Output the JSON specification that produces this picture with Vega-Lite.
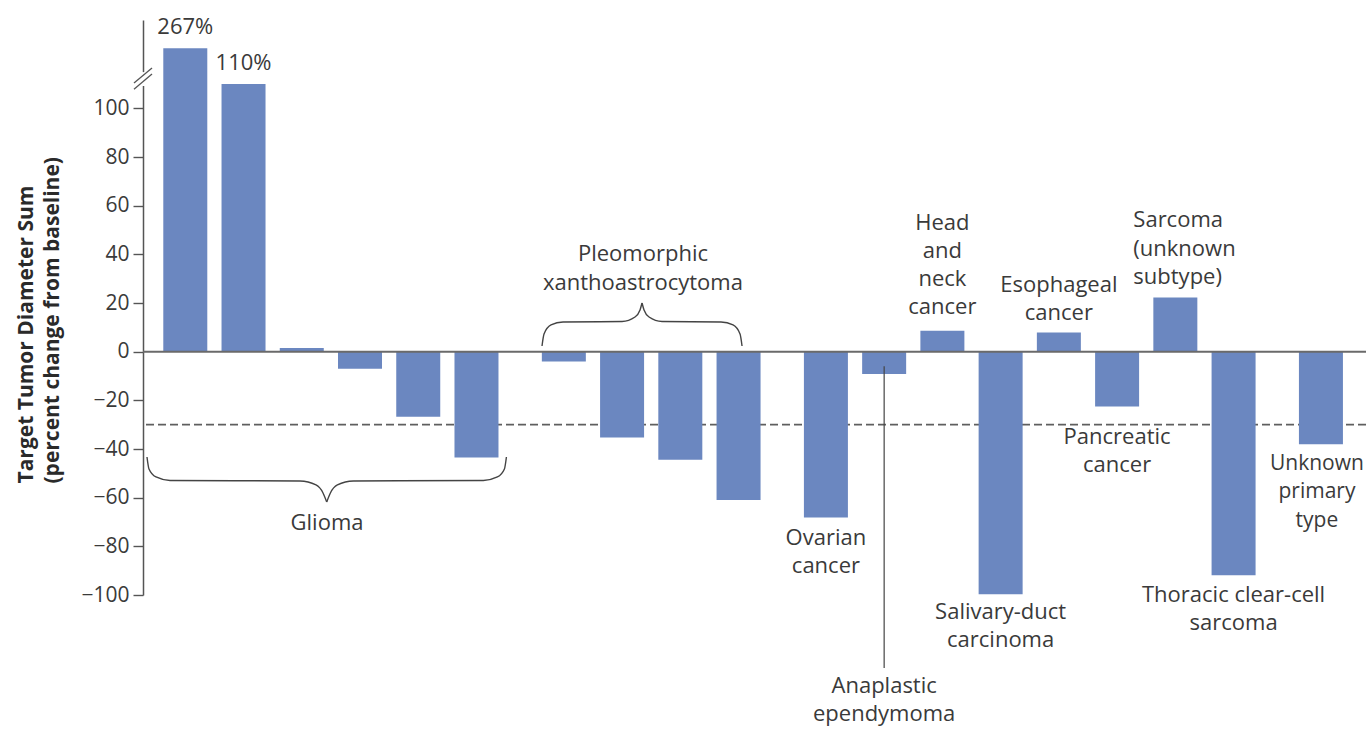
{
  "$schema": "https://vega.github.io/schema/vega-lite/v6.json",
  "width": 1223,
  "height": 575,
  "autosize": "none",
  "padding": {"left": 143, "top": 20, "right": 0, "bottom": 135},
  "background": "white",
  "config": {"view": {"stroke": null}, "font": "Open Sans"},
  "datasets": {
    "bars": [
      {"id": "1", "tumor": "Glioma", "value": 267, "label": "267%"},
      {"id": "2", "tumor": "Glioma", "value": 110, "label": "110%"},
      {"id": "3", "tumor": "Glioma", "value": 1.5, "label": ""},
      {"id": "4", "tumor": "Glioma", "value": -7, "label": ""},
      {"id": "5", "tumor": "Glioma", "value": -26.7, "label": ""},
      {"id": "6", "tumor": "Glioma", "value": -43.5, "label": ""},
      {"id": "7", "tumor": "Pleomorphic xanthoastrocytoma", "value": -4, "label": ""},
      {"id": "8", "tumor": "Pleomorphic xanthoastrocytoma", "value": -35.3, "label": ""},
      {"id": "9", "tumor": "Pleomorphic xanthoastrocytoma", "value": -44.4, "label": ""},
      {"id": "10", "tumor": "Pleomorphic xanthoastrocytoma", "value": -61, "label": ""},
      {"id": "11", "tumor": "Ovarian cancer", "value": -68.2, "label": ""},
      {"id": "12", "tumor": "Anaplastic ependymoma", "value": -9.2, "label": ""},
      {"id": "13", "tumor": "Head and neck cancer", "value": 8.6, "label": ""},
      {"id": "14", "tumor": "Salivary-duct carcinoma", "value": -99.7, "label": ""},
      {"id": "15", "tumor": "Esophageal cancer", "value": 7.9, "label": ""},
      {"id": "16", "tumor": "Pancreatic cancer", "value": -22.5, "label": ""},
      {"id": "17", "tumor": "Sarcoma (unknown subtype)", "value": 22.3, "label": ""},
      {"id": "18", "tumor": "Thoracic clear-cell sarcoma", "value": -91.9, "label": ""},
      {"id": "19", "tumor": "Unknown primary type", "value": -38, "label": ""}
    ],
    "notes": [
      {"id": "11", "v": -76.6, "text": "Ovarian\ncancer"},
      {"id": "12", "v": -137.2, "text": "Anaplastic\nependymoma"},
      {"id": "13", "v": 52.8, "text": "Head\nand\nneck\ncancer"},
      {"id": "14", "v": -107.1, "text": "Salivary-duct\ncarcinoma"},
      {"id": "15", "v": 27.4, "text": "Esophageal\ncancer"},
      {"id": "16", "v": -35.1, "text": "Pancreatic\ncancer"},
      {"id": "18", "v": -100.2, "text": "Thoracic clear-cell\nsarcoma"}
    ],
    "edgeNotes": [
      {"id": "19", "v": -46.1, "text": "Unknown\nprimary\ntype"}
    ],
    "sideNotes": [
      {"id": "17", "v": 54.1, "text": "Sarcoma\n(unknown\nsubtype)"}
    ],
    "pointers": [
      {"id": "12", "v": -6, "v2": -130}
    ],
    "braces": [
      {"seg": "gL", "k": -1.434, "v": -43.27},
      {"seg": "gL", "k": -1.365, "v": -48.2},
      {"seg": "gL", "k": -1.123, "v": -51.49},
      {"seg": "gL", "k": -0.639, "v": -52.93},
      {"seg": "gL", "k": 3.852, "v": -53.13},
      {"seg": "gL", "k": 4.405, "v": -54.78},
      {"seg": "gL", "k": 4.647, "v": -58.06},
      {"seg": "gL", "k": 4.775, "v": -61.76},
      {"seg": "gR", "k": 4.775, "v": -61.76},
      {"seg": "gR", "k": 4.902, "v": -58.06},
      {"seg": "gR", "k": 5.144, "v": -54.78},
      {"seg": "gR", "k": 5.697, "v": -53.13},
      {"seg": "gR", "k": 10.188, "v": -52.93},
      {"seg": "gR", "k": 10.672, "v": -51.49},
      {"seg": "gR", "k": 10.914, "v": -48.2},
      {"seg": "gR", "k": 10.983, "v": -43.27},
      {"seg": "pL", "k": 12.213, "v": 2.34},
      {"seg": "pL", "k": 12.282, "v": 7.27},
      {"seg": "pL", "k": 12.524, "v": 10.97},
      {"seg": "pL", "k": 12.938, "v": 12.2},
      {"seg": "pL", "k": 14.977, "v": 12.41},
      {"seg": "pL", "k": 15.426, "v": 14.26},
      {"seg": "pL", "k": 15.599, "v": 17.14},
      {"seg": "pL", "k": 15.668, "v": 20.01},
      {"seg": "pR", "k": 15.668, "v": 20.01},
      {"seg": "pR", "k": 15.737, "v": 17.14},
      {"seg": "pR", "k": 15.91, "v": 14.26},
      {"seg": "pR", "k": 16.359, "v": 12.41},
      {"seg": "pR", "k": 18.397, "v": 12.2},
      {"seg": "pR", "k": 18.812, "v": 10.97},
      {"seg": "pR", "k": 19.054, "v": 7.27},
      {"seg": "pR", "k": 19.123, "v": 2.34}
    ],
    "groupNotes": [
      {"k": 4.785, "v": -70.4, "text": "Glioma"},
      {"k": 15.7, "v": 40.1, "text": "Pleomorphic\nxanthoastrocytoma"}
    ],
    "axisGap": [
      {"k": -1.572, "v": 109.2, "v2": 114.9}
    ],
    "axisSlashes": [
      {"k": -1.883, "k2": -1.261, "v": 110.4, "v2": 116.6},
      {"k": -1.883, "k2": -1.261, "v": 107.9, "v2": 114.1}
    ]
  },
  "layer": [
    {
      "data": {"values": [{"ref": -30}]},
      "mark": {"type": "rule", "color": "#5f5f5f", "strokeWidth": 1.8, "strokeDash": [8, 4]},
      "encoding": {
        "y": {"field": "ref", "type": "quantitative",
              "scale": {"domain": [-100, 120, 267, 400], "range": [575, 39.7, 28.3, 0], "nice": false, "zero": false},
              "axis": {"values": [-100, -80, -60, -40, -20, 0, 20, 40, 60, 80, 100],
                       "title": ["Target Tumor Diameter Sum", "(percent change from baseline)"],
                       "grid": false,
                       "tickSize": 10, "tickColor": "#555555", "tickWidth": 1.4,
                       "domainColor": "#555555", "domainWidth": 1.5,
                       "labelFont": "Open Sans", "labelFontSize": 21, "labelColor": "#3a3a3a", "labelPadding": 4,
                       "labelOverlap": false, "labelFlush": false,
                       "titleFont": "Open Sans", "titleFontSize": 21, "titleFontWeight": "bold", "titleColor": "#2a2a2a",
                       "titleAngle": -90, "titleAlign": "left", "titleBaseline": "alphabetic",
                       "titleX": -111, "titleY": 463, "titleLineHeight": 26}}
      }
    },
    {
      "data": {"name": "bars"},
      "mark": {"type": "bar", "color": "#6b87c0", "width": 44},
      "encoding": {
        "x": {"field": "id", "type": "nominal", "sort": null, "axis": null,
              "scale": {"type": "band", "domain": ["1","sp1","2","sp2","3","sp3","4","sp4","5","sp5","6","sp6","sp7","7","sp8","8","sp9","9","sp10","10","sp11","sp12","11","sp13","12","sp14","13","sp15","14","sp16","15","sp17","16","sp18","17","sp19","18","sp20","sp21","19"], "paddingInner": 0, "paddingOuter": 1.1256, "align": 0.4762}},
        "y": {"field": "value", "type": "quantitative",
              "scale": {"domain": [-100, 120, 267, 400], "range": [575, 39.7, 28.3, 0], "nice": false, "zero": false}}
      }
    },
    {
      "data": {"values": [{"ref": 0}]},
      "mark": {"type": "rule", "color": "#6a6a6a", "strokeWidth": 2},
      "encoding": {
        "y": {"field": "ref", "type": "quantitative", "scale": {"domain": [-100, 120, 267, 400], "range": [575, 39.7, 28.3, 0], "nice": false, "zero": false}}
      }
    },
    {
      "data": {"name": "bars"},
      "mark": {"type": "text", "fontSize": 22, "color": "#3a3a3a", "baseline": "middle", "dy": -21},
      "encoding": {
        "x": {"field": "id", "type": "nominal", "sort": null, "axis": null,
              "scale": {"type": "band", "domain": ["1","sp1","2","sp2","3","sp3","4","sp4","5","sp5","6","sp6","sp7","7","sp8","8","sp9","9","sp10","10","sp11","sp12","11","sp13","12","sp14","13","sp15","14","sp16","15","sp17","16","sp18","17","sp19","18","sp20","sp21","19"], "paddingInner": 0, "paddingOuter": 1.1256, "align": 0.4762}},
        "y": {"field": "value", "type": "quantitative", "scale": {"domain": [-100, 120, 267, 400], "range": [575, 39.7, 28.3, 0], "nice": false, "zero": false}},
        "text": {"field": "label", "type": "nominal"}
      }
    },
    {
      "data": {"name": "pointers"},
      "mark": {"type": "rule", "color": "#444444", "strokeWidth": 1.2},
      "encoding": {
        "x": {"field": "id", "type": "nominal", "sort": null, "axis": null,
              "scale": {"type": "band", "domain": ["1","sp1","2","sp2","3","sp3","4","sp4","5","sp5","6","sp6","sp7","7","sp8","8","sp9","9","sp10","10","sp11","sp12","11","sp13","12","sp14","13","sp15","14","sp16","15","sp17","16","sp18","17","sp19","18","sp20","sp21","19"], "paddingInner": 0, "paddingOuter": 1.1256, "align": 0.4762}},
        "y": {"field": "v", "type": "quantitative", "scale": {"domain": [-100, 120, 267, 400], "range": [575, 39.7, 28.3, 0], "nice": false, "zero": false}},
        "y2": {"field": "v2"}
      }
    },
    {
      "data": {"name": "notes"},
      "mark": {"type": "text", "fontSize": 22, "color": "#3a3a3a", "align": "center", "baseline": "middle", "lineBreak": "\n", "lineHeight": 28},
      "encoding": {
        "x": {"field": "id", "type": "nominal", "sort": null, "axis": null,
              "scale": {"type": "band", "domain": ["1","sp1","2","sp2","3","sp3","4","sp4","5","sp5","6","sp6","sp7","7","sp8","8","sp9","9","sp10","10","sp11","sp12","11","sp13","12","sp14","13","sp15","14","sp16","15","sp17","16","sp18","17","sp19","18","sp20","sp21","19"], "paddingInner": 0, "paddingOuter": 1.1256, "align": 0.4762}},
        "y": {"field": "v", "type": "quantitative", "scale": {"domain": [-100, 120, 267, 400], "range": [575, 39.7, 28.3, 0], "nice": false, "zero": false}},
        "text": {"field": "text", "type": "nominal"}
      }
    },
    {
      "data": {"name": "edgeNotes"},
      "mark": {"type": "text", "fontSize": 21, "color": "#3a3a3a", "align": "center", "baseline": "middle", "dx": -4, "lineBreak": "\n", "lineHeight": 28.5},
      "encoding": {
        "x": {"field": "id", "type": "nominal", "sort": null, "axis": null,
              "scale": {"type": "band", "domain": ["1","sp1","2","sp2","3","sp3","4","sp4","5","sp5","6","sp6","sp7","7","sp8","8","sp9","9","sp10","10","sp11","sp12","11","sp13","12","sp14","13","sp15","14","sp16","15","sp17","16","sp18","17","sp19","18","sp20","sp21","19"], "paddingInner": 0, "paddingOuter": 1.1256, "align": 0.4762}},
        "y": {"field": "v", "type": "quantitative", "scale": {"domain": [-100, 120, 267, 400], "range": [575, 39.7, 28.3, 0], "nice": false, "zero": false}},
        "text": {"field": "text", "type": "nominal"}
      }
    },
    {
      "data": {"name": "sideNotes"},
      "mark": {"type": "text", "fontSize": 22, "color": "#3a3a3a", "align": "left", "baseline": "middle", "dx": -42, "lineBreak": "\n", "lineHeight": 28.5},
      "encoding": {
        "x": {"field": "id", "type": "nominal", "sort": null, "axis": null,
              "scale": {"type": "band", "domain": ["1","sp1","2","sp2","3","sp3","4","sp4","5","sp5","6","sp6","sp7","7","sp8","8","sp9","9","sp10","10","sp11","sp12","11","sp13","12","sp14","13","sp15","14","sp16","15","sp17","16","sp18","17","sp19","18","sp20","sp21","19"], "paddingInner": 0, "paddingOuter": 1.1256, "align": 0.4762}},
        "y": {"field": "v", "type": "quantitative", "scale": {"domain": [-100, 120, 267, 400], "range": [575, 39.7, 28.3, 0], "nice": false, "zero": false}},
        "text": {"field": "text", "type": "nominal"}
      }
    },
    {
      "data": {"name": "braces"},
      "mark": {"type": "line", "color": "#444444", "strokeWidth": 1.4, "interpolate": "monotone"},
      "encoding": {
        "x": {"field": "k", "type": "quantitative", "axis": null, "scale": {"domain": [-1.572, 40.679], "nice": false, "zero": false}},
        "y": {"field": "v", "type": "quantitative", "scale": {"domain": [-100, 120, 267, 400], "range": [575, 39.7, 28.3, 0], "nice": false, "zero": false}},
        "detail": {"field": "seg", "type": "nominal"}
      }
    },
    {
      "data": {"name": "groupNotes"},
      "mark": {"type": "text", "fontSize": 22, "color": "#3a3a3a", "align": "center", "baseline": "middle", "lineBreak": "\n", "lineHeight": 28.5},
      "encoding": {
        "x": {"field": "k", "type": "quantitative", "axis": null, "scale": {"domain": [-1.572, 40.679], "nice": false, "zero": false}},
        "y": {"field": "v", "type": "quantitative", "scale": {"domain": [-100, 120, 267, 400], "range": [575, 39.7, 28.3, 0], "nice": false, "zero": false}},
        "text": {"field": "text", "type": "nominal"}
      }
    },
    {
      "data": {"name": "axisGap"},
      "mark": {"type": "rule", "color": "white", "strokeWidth": 5},
      "encoding": {
        "x": {"field": "k", "type": "quantitative", "axis": null, "scale": {"domain": [-1.572, 40.679], "nice": false, "zero": false}},
        "y": {"field": "v", "type": "quantitative", "scale": {"domain": [-100, 120, 267, 400], "range": [575, 39.7, 28.3, 0], "nice": false, "zero": false}},
        "y2": {"field": "v2"}
      }
    },
    {
      "data": {"name": "axisSlashes"},
      "mark": {"type": "rule", "color": "#555555", "strokeWidth": 1.3},
      "encoding": {
        "x": {"field": "k", "type": "quantitative", "axis": null, "scale": {"domain": [-1.572, 40.679], "nice": false, "zero": false}},
        "x2": {"field": "k2"},
        "y": {"field": "v", "type": "quantitative", "scale": {"domain": [-100, 120, 267, 400], "range": [575, 39.7, 28.3, 0], "nice": false, "zero": false}},
        "y2": {"field": "v2"}
      }
    }
  ],
  "resolve": {"scale": {"x": "independent"}}
}
